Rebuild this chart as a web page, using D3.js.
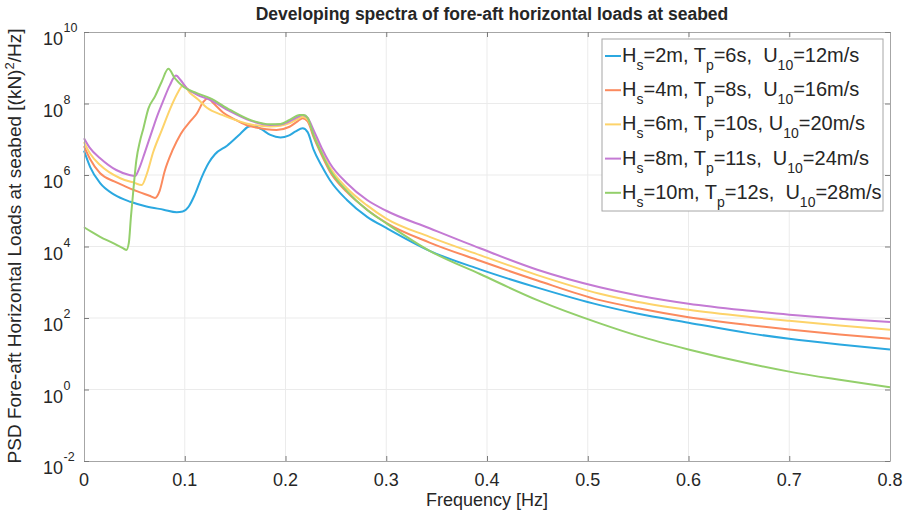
<!DOCTYPE html>
<html>
<head>
<meta charset="utf-8">
<script src="https://cdn.jsdelivr.net/npm/d3@7"></script>
<style>
  body { margin: 0; background: #fff; }
  text { font-family: "Liberation Sans", Arial, sans-serif; fill: #262626; }
</style>
</head>
<body>
<div class="chart"></div>
<script>
// frequencies [Hz] and log10(PSD), one pair per sea state
var freqHs2 = [0, .006, .016, .03, .046, .062, .079, .092, .098, .104, .11, .117, .124, .13, .142, .155, .163, .168, .176, .185, .195, .203, .21, .217, .222, .228, .236, .244, .261, .281, .3, .343, .393, .45, .512, .55, .6, .661, .7, .75, .8];
var logPsdHs2 = [6.68, 6.23, 5.77, 5.45, 5.25, 5.12, 5.03, 4.96, 4.98, 5.12, 5.45, 5.95, 6.35, 6.58, 6.82, 7.15, 7.35, 7.38, 7.28, 7.12, 7.05, 7.1, 7.22, 7.31, 7.2, 6.70, 6.25, 5.86, 5.30, 4.83, 4.52, 3.88, 3.36, 2.85, 2.36, 2.12, 1.87, 1.57, 1.42, 1.26, 1.12];

var freqHs4 = [0, .006, .016, .03, .042, .055, .065, .0705, .075, .08, .088, .096, .106, .112, .118, .123, .128, .138, .15, .161, .172, .181, .191, .204, .212, .217, .222, .228, .236, .244, .261, .281, .3, .343, .393, .45, .512, .55, .6, .661, .7, .75, .8];
var logPsdHs4 = [6.81, 6.45, 6.05, 5.82, 5.67, 5.52, 5.42, 5.36, 5.55, 6.1, 6.7, 7.15, 7.52, 7.72, 8.03, 8.15, 8.02, 7.75, 7.55, 7.40, 7.32, 7.28, 7.26, 7.35, 7.5, 7.59, 7.5, 7.05, 6.55, 6.1, 5.52, 5.03, 4.66, 4.11, 3.60, 3.05, 2.50, 2.27, 2.02, 1.80, 1.68, 1.54, 1.42];

var freqHs6 = [0, .006, .016, .036, .05, .0573, .062, .0688, .0771, .087, .0936, .0986, .105, .113, .122, .137, .152, .168, .185, .195, .205, .213, .217, .222, .228, .236, .244, .261, .281, .3, .343, .393, .45, .512, .55, .6, .661, .7, .75, .8];
var logPsdHs6 = [6.92, 6.6, 6.28, 5.91, 5.78, 5.72, 6.0, 6.65, 7.25, 7.95, 8.33, 8.52, 8.3, 8.12, 7.88, 7.68, 7.52, 7.40, 7.36, 7.38, 7.46, 7.58, 7.63, 7.55, 7.15, 6.65, 6.22, 5.63, 5.15, 4.78, 4.27, 3.76, 3.20, 2.68, 2.45, 2.23, 2.03, 1.92, 1.79, 1.67];

var freqHs8 = [0, .006, .016, .032, .045, .0506, .055, .06, .066, .072, .079, .085, .0913, .096, .102, .112, .125, .145, .165, .185, .195, .204, .212, .217, .222, .228, .236, .244, .261, .281, .3, .343, .393, .45, .512, .55, .6, .661, .7, .75, .8];
var logPsdHs8 = [7.03, 6.75, 6.47, 6.14, 6.0, 5.97, 6.2, 6.6, 7.1, 7.6, 8.1, 8.5, 8.78, 8.65, 8.43, 8.25, 8.10, 7.78, 7.52, 7.40, 7.41, 7.5, 7.62, 7.68, 7.6, 7.25, 6.75, 6.33, 5.77, 5.30, 5.0, 4.51, 3.95, 3.35, 2.86, 2.63, 2.40, 2.20, 2.09, 1.98, 1.89];

var freqHs10 = [0, .008, .016, .03, .04, .042, .0445, .0465, .049, .052, .0556, .059, .0638, .0705, .0771, .0837, .0903, .0986, .112, .125, .145, .165, .185, .195, .204, .214, .218, .222, .228, .236, .244, .261, .281, .3, .343, .393, .45, .512, .55, .6, .661, .7, .75, .8];
var logPsdHs10 = [4.54, 4.4, 4.27, 4.08, 3.93, 3.90, 4.1, 4.8, 5.58, 6.42, 6.95, 7.31, 7.85, 8.2, 8.61, 8.97, 8.70, 8.47, 8.29, 8.15, 7.82, 7.54, 7.42, 7.43, 7.54, 7.68, 7.68, 7.6, 7.1, 6.6, 6.15, 5.55, 5.02, 4.65, 3.88, 3.23, 2.50, 1.85, 1.50, 1.12, 0.72, 0.50, 0.27, 0.06];

// legend pieces: Hs, Tp, U10 (spaces as in the original)
var legendHs = ["2m", "4m", "6m", "8m", "10m"];
var legendTp = ["6s,  ", "8s,  ", "10s, ", "11s,  ", "12s,  "];
var legendU = ["12m/s", "16m/s", "20m/s", "24m/s", "28m/s"];
var colors = ["#2ba8e0", "#fb8a5e", "#fdd36a", "#c47ad4", "#93cf6b"];

var xTicks = [0, 0.1, 0.2, 0.3, 0.4, 0.5, 0.6, 0.7, 0.8];
var yTickExps = [-2, 0, 2, 4, 6, 8, 10];

var series = [
  {f: freqHs2, v: logPsdHs2},
  {f: freqHs4, v: logPsdHs4},
  {f: freqHs6, v: logPsdHs6},
  {f: freqHs8, v: logPsdHs8},
  {f: freqHs10, v: logPsdHs10}
];

var W = 905, H = 514;
var pLeft = 84, pRight = 890, pTop = 32, pBottom = 461;

var svg = d3.select(".chart").append("svg")
    .attr("width", W)
    .attr("height", H);

var x = d3.scaleLinear().domain([0, 0.8]).range([pLeft, pRight]);
var y = d3.scaleLog().domain([1e-2, 1e10]).range([pBottom, pTop]);

// grid
svg.append("g").selectAll("line")
    .data(xTicks.slice(1, -1)).enter().append("line")
    .attr("x1", function(d) { return x(d); }).attr("x2", function(d) { return x(d); })
    .attr("y1", pTop).attr("y2", pBottom)
    .attr("stroke", "#ebebeb").attr("stroke-width", 1);
svg.append("g").selectAll("line")
    .data(yTickExps.slice(1, -1)).enter().append("line")
    .attr("y1", function(d) { return y(Math.pow(10, d)); }).attr("y2", function(d) { return y(Math.pow(10, d)); })
    .attr("x1", pLeft).attr("x2", pRight)
    .attr("stroke", "#ebebeb").attr("stroke-width", 1);

// curves
var line = d3.line()
    .x(function(d) { return x(d[0]); })
    .y(function(d) { return y(Math.pow(10, d[1])); })
    .curve(d3.curveMonotoneX);

svg.append("g").selectAll("path")
    .data(series).enter().append("path")
    .attr("d", function(s) { return line(s.f.map(function(f, i) { return [f, s.v[i]]; })); })
    .attr("fill", "none")
    .attr("stroke", function(s, i) { return colors[i]; })
    .attr("stroke-width", 2);

// frame with inward ticks on all sides
function styleAxis(g) {
  g.select(".domain").attr("stroke", "#a6a6a6");
  g.selectAll(".tick line").attr("stroke", "#7a7a7a");
  g.selectAll(".tick text").remove();
}
var yVals = yTickExps.map(function(e) { return Math.pow(10, e); });
svg.append("g").attr("transform", "translate(0," + pBottom + ")")
    .call(d3.axisBottom(x).tickValues(xTicks).tickSizeInner(-5).tickSizeOuter(0)).call(styleAxis);
svg.append("g").attr("transform", "translate(0," + pTop + ")")
    .call(d3.axisTop(x).tickValues(xTicks).tickSizeInner(-5).tickSizeOuter(0)).call(styleAxis);
svg.append("g").attr("transform", "translate(" + pLeft + ",0)")
    .call(d3.axisLeft(y).tickValues(yVals).tickSizeInner(-5).tickSizeOuter(0)).call(styleAxis);
svg.append("g").attr("transform", "translate(" + pRight + ",0)")
    .call(d3.axisRight(y).tickValues(yVals).tickSizeInner(-5).tickSizeOuter(0)).call(styleAxis);

// tick labels
svg.append("g").selectAll("text")
    .data(xTicks).enter().append("text")
    .attr("x", function(d) { return x(d); })
    .attr("y", 486)
    .attr("text-anchor", "middle")
    .style("font-size", "18px")
    .text(function(d) { return d === 0 ? "0" : d3.format(".1f")(d); });

var yl = svg.append("g").selectAll("g")
    .data(yTickExps).enter().append("g")
    .attr("transform", function(d) { return "translate(63," + y(Math.pow(10, d)) + ")"; });
yl.append("text")
    .attr("y", 13)
    .attr("text-anchor", "end")
    .style("font-size", "18px")
    .text("10");
yl.append("text")
    .attr("x", 0.5)
    .attr("y", 0)
    .style("font-size", "12.5px")
    .text(function(d) { return d; });

// titles
svg.append("text")
    .attr("x", 492).attr("y", 20)
    .attr("text-anchor", "middle")
    .style("font-size", "17.5px").style("font-weight", "bold")
    .text("Developing spectra of fore-aft horizontal loads at seabed");

svg.append("text")
    .attr("x", 487).attr("y", 506)
    .attr("text-anchor", "middle")
    .style("font-size", "18px")
    .text("Frequency [Hz]");

var ylab = svg.append("text")
    .attr("transform", "translate(21,246) rotate(-90)")
    .attr("text-anchor", "middle")
    .style("font-size", "19px");
ylab.append("tspan").text("PSD Fore-aft Horizontal Loads at seabed [(kN)");
ylab.append("tspan").attr("dy", -7).style("font-size", "13px").text("2");
ylab.append("tspan").attr("dy", 7).text("/Hz]");

// legend
var lg = svg.append("g");
lg.append("rect")
    .attr("x", 602).attr("y", 39).attr("width", 281).attr("height", 172)
    .attr("fill", "#fff").attr("stroke", "#a6a6a6");

var rows = lg.selectAll("g.row")
    .data(legendHs).enter().append("g")
    .attr("class", "row")
    .attr("transform", function(d, i) { return "translate(0," + (62 + i * 34.2) + ")"; });
rows.append("line")
    .attr("x1", 605).attr("x2", 621).attr("y1", -6).attr("y2", -6)
    .attr("stroke", function(d, i) { return colors[i]; })
    .attr("stroke-width", 2);
var lt = rows.append("text")
    .attr("x", 622)
    .style("font-size", "20px")
    .style("white-space", "pre");
lt.each(function(d, i) {
  var t = d3.select(this);
  t.append("tspan").text("H");
  t.append("tspan").attr("dy", 8).style("font-size", "14px").text("s");
  t.append("tspan").attr("dy", -8).text("=" + legendHs[i] + ", T");
  t.append("tspan").attr("dy", 8).style("font-size", "14px").text("p");
  t.append("tspan").attr("dy", -8).text("=" + legendTp[i] + "U");
  t.append("tspan").attr("dy", 8).style("font-size", "14px").text("10");
  t.append("tspan").attr("dy", -8).text("=" + legendU[i]);
});
</script>
</body>
</html>
